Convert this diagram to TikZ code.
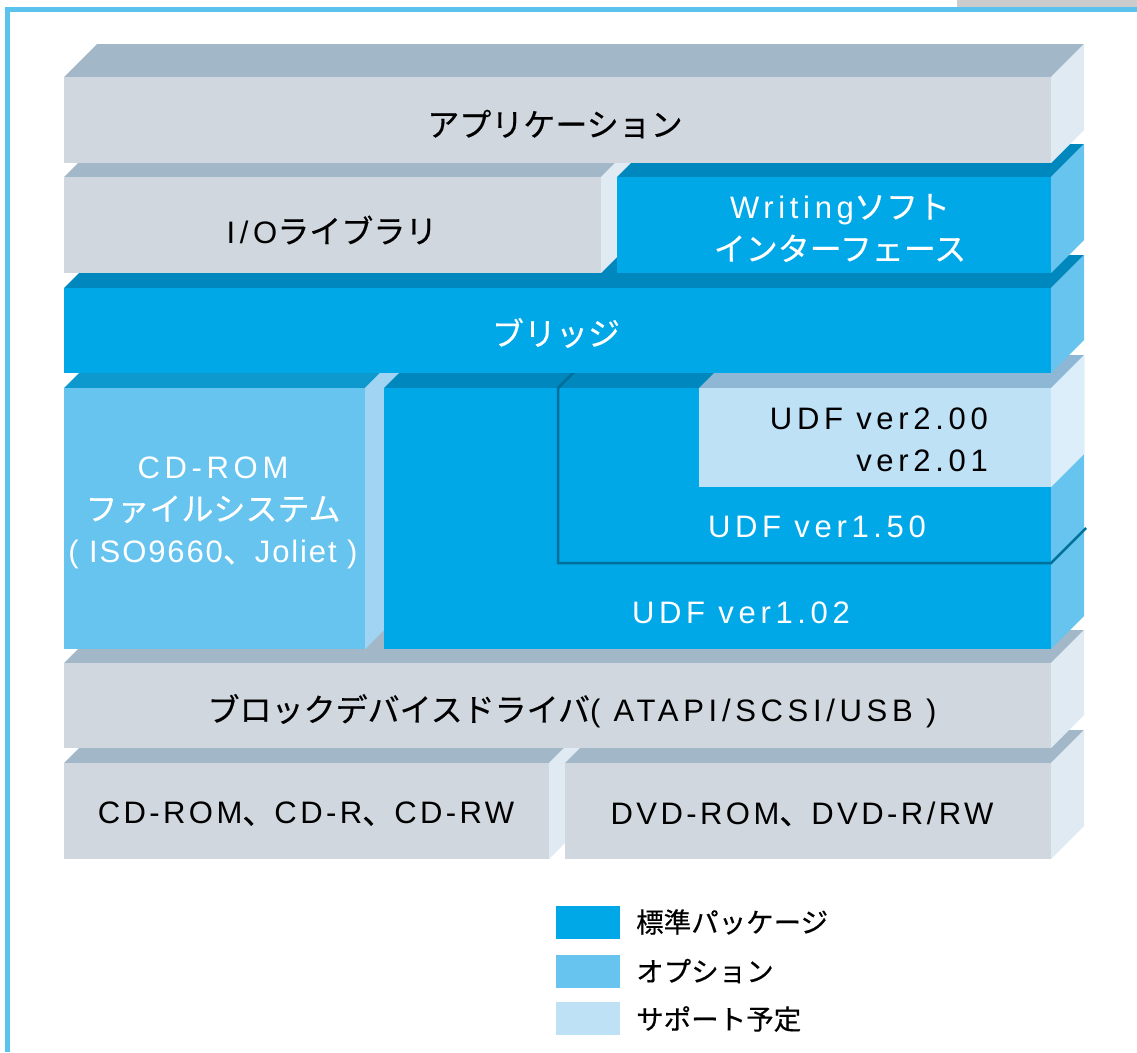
\documentclass[tikz,border=0pt]{standalone}
\usepackage{fontspec}
\setmainfont{Noto Sans CJK JP}[FakeBold=0.4]
\newfontfamily\lat[LetterSpace=15,Scale=0.97]{Liberation Sans}
\newfontfamily\latm[LetterSpace=11,Scale=0.97]{Liberation Sans}
\newfontfamily\latn[LetterSpace=6,Scale=0.97]{Liberation Sans}
\definecolor{frameC}{HTML}{5BC2EE}
\definecolor{cornerC}{HTML}{CCCCCC}
\definecolor{grF}{HTML}{D0D7DE}
\definecolor{grT}{HTML}{A2B8C8}
\definecolor{grS}{HTML}{DFEAF3}
\definecolor{stF}{HTML}{00A8E8}
\definecolor{stT}{HTML}{0087BD}
\definecolor{stS}{HTML}{66C4EE}
\definecolor{opF}{HTML}{66C4EE}
\definecolor{opT}{HTML}{0E99CE}
\definecolor{opS}{HTML}{A0D4F2}
\definecolor{suF}{HTML}{BEE1F6}
\definecolor{suT}{HTML}{8DB7D5}
\definecolor{suS}{HTML}{DDEEFB}
\definecolor{lineC}{HTML}{006F9A}
% slab: x1,y1,x2,y2,front,top,side
\newcommand\slab[7]{%
  \fill[#6] (#1,#2) -- (#1+33,#2-33) -- (#3+33,#2-33) -- (#3,#2) -- cycle;
  \fill[#7] (#3,#2) -- (#3+33,#2-33) -- (#3+33,#4-33) -- (#3,#4) -- cycle;
  \fill[#5] (#1,#2) rectangle (#3,#4);
}
\tikzset{
  lbl/.style={inner sep=0pt, font=\fontsize{32}{42}\selectfont},
  txtk/.style={lbl, text=black},
  txtw/.style={lbl, text=white},
  legtxt/.style={inner sep=0pt, anchor=west, text=black, font=\fontsize{27.5}{32}\selectfont},
  legsq/.style={inner sep=0pt, minimum width=64pt, minimum height=33pt, draw=none}
}
\begin{document}
\begin{tikzpicture}[x=1pt,y=-1pt]
\useasboundingbox (0,0) rectangle (1137,1052);
% frame
\fill[cornerC] (957,0) rectangle (1137,7);
\fill[frameC] (5,7) rectangle (1137,11.5);
\fill[frameC] (5,7) rectangle (10,1052);
% row 6
\slab{64}{763}{549}{859}{grF}{grT}{grS}
\slab{565}{763}{1051}{859}{grF}{grT}{grS}
% row 5
\slab{64}{663}{1051}{748}{grF}{grT}{grS}
% row 4
\slab{64}{388}{365}{649}{opF}{opT}{opS}
\slab{384}{388}{1051}{649}{stF}{stT}{stS}
\slab{699}{388}{1051}{487}{suF}{suT}{suS}
\draw[lineC, line width=2.5pt, line join=miter] (591,355) -- (558,388) -- (558,563) -- (1051,563) -- (1086,528);
% bridge
\slab{64}{288}{1051}{373}{stF}{stT}{stS}
% row 2
\slab{64}{177}{601}{273}{grF}{grT}{grS}
\slab{617}{177}{1051}{273}{stF}{stT}{stS}
% row 1
\slab{64}{77}{1051}{163}{grF}{grT}{grS}
% labels
\node[txtk] (app) at (555,124) {アプリケーション};
\node[txtk] (io) at (332,230) {{\lat I/O}ライブラリ};
\node[txtw, align=center] (wr) at (840,228) {{\lat Writing}ソフト\\インターフェース};
\node[txtw] (br) at (556,333) {ブリッジ};
\node[txtw, align=center] (cdfs) at (213,513) {{\lat CD-ROM}\\ファイルシステム\\{\latn( ISO9660}、{\latn Joliet )}};
\node[txtk, align=right, anchor=east] (u2) at (988,440) {{\lat UDF ver2.00}\\{\lat ver2.01}};
\node[txtw] (u15) at (817,527) {\lat UDF ver1.50};
\node[txtw] (u10) at (741,613) {\lat UDF ver1.02};
\node[txtk] (bd) at (572,711) {ブロックデバイスドライバ{\lat( ATAPI/SCSI/USB )}};
\node[txtk] (cd) at (306,814) {{\latm CD-ROM}、{\latm CD-R}、{\latm CD-RW}};
\node[txtk] (dvd) at (802,814) {{\latm DVD-ROM}、{\latm DVD-R/RW}};
% legend
\node[legsq, fill=stF] (l1) at (588,922.5) {};
\node[legsq, fill=opF] (l2) at (588,971) {};
\node[legsq, fill=suF] (l3) at (588,1018.5) {};
\node[legtxt] (t1) at (636,922) {標準パッケージ};
\node[legtxt] (t2) at (636,971) {オプション};
\node[legtxt] (t3) at (636,1019) {サポート予定};
\end{tikzpicture}
\end{document}
